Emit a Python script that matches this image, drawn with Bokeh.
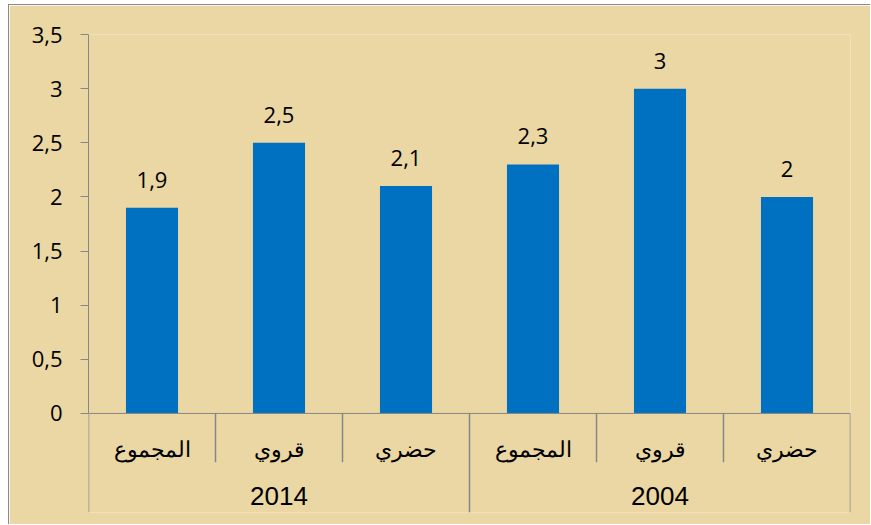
from bokeh.plotting import figure
from bokeh.models import Range1d, FixedTicker, CustomJSTickFormatter, Span, ColumnDataSource
from bokeh.core.properties import value
from bokeh.embed import file_html
from bokeh.resources import INLINE

# ---- data ----
groups = ["2014", "2004"]
subcats = ["المجموع", "قروي", "حضري"]
values_2014 = [1.9, 2.5, 2.1]
values_2004 = [2.3, 3, 2]
yticks = [0, 0.5, 1, 1.5, 2, 2.5, 3, 3.5]

# ---- derived ----
values = values_2014 + values_2004
n = len(values)
gsize = len(subcats)
xs = [i + 0.5 for i in range(n)]
sub_labels = subcats * len(groups)
value_labels = [("%g" % v).replace(".", ",") for v in values]
group_x = [g * gsize + gsize / 2 for g in range(len(groups))]

BG = "#EAD7A4"
AX = "#878787"
BLUE = "#0070C0"
NUMFONT = "Open Sans"
ARFONT = "Liberation Sans"

ymin = -0.915
p = figure(width=862, height=520,
           x_range=Range1d(0, n), y_range=Range1d(ymin, yticks[-1]),
           output_backend="svg", toolbar_location=None,
           x_axis_location=None,
           min_border_left=79, min_border_right=21,
           min_border_top=29, min_border_bottom=13)
p.background_fill_color = BG
p.border_fill_color = BG
p.outline_line_color = None
p.xgrid.grid_line_color = None
p.ygrid.grid_line_color = None
p.styles = {"border-left": "1px solid #8a8a8a", "border-top": "1px solid #8a8a8a",
            "margin-left": "8px", "margin-top": "4px"}

# y axis
ya = p.yaxis[0]
ya.ticker = FixedTicker(ticks=yticks)
ya.bounds = (yticks[0], yticks[-1])
ya.formatter = CustomJSTickFormatter(code="return tick.toString().replace('.', ',');")
ya.axis_line_color = AX
ya.major_tick_line_color = AX
ya.major_tick_out = 8
ya.major_tick_in = 0
ya.minor_tick_line_color = None
ya.major_label_standoff = 18
ya.major_label_text_font = NUMFONT
ya.major_label_text_font_size = "22px"
ya.major_label_text_color = "#000000"

# bars
src = ColumnDataSource(dict(x=xs, top=values, lab=value_labels, sub=sub_labels))
p.vbar(x="x", top="top", bottom=0, width=0.41, source=src,
       fill_color=BLUE, line_color=None)

# value labels
p.text(x="x", y="top", text="lab", source=src, y_offset=-28,
       text_align="center", text_baseline="alphabetic",
       text_font=value(NUMFONT), text_font_size="22px", text_color="#000000")

# category axis line at zero
p.add_layout(Span(location=0, dimension="width", line_color=AX, line_width=1))

# separators
bounds = list(range(n + 1))
sub_sep = [b for b in bounds if b % gsize != 0]
grp_sep = [b for b in bounds if b % gsize == 0]
p.segment(x0=sub_sep, y0=[0] * len(sub_sep), x1=sub_sep, y1=[-0.45] * len(sub_sep),
          line_color=AX, line_width=1.5)
p.segment(x0=grp_sep, y0=[0] * len(grp_sep), x1=grp_sep, y1=[ymin] * len(grp_sep),
          line_color=AX, line_width=1.5)

# sub-category labels
p.text(x="x", y=-0.33, text="sub", source=src,
       text_align="center", text_baseline="middle",
       text_font=value(ARFONT), text_font_size="22px", text_color="#000000")

# group labels
p.text(x=group_x, y=[-0.765] * len(groups), text=groups,
       text_align="center", text_baseline="middle",
       text_font=value(ARFONT), text_font_size="26px", text_color="#000000")

open("out.html", "w").write(file_html(p, INLINE))
